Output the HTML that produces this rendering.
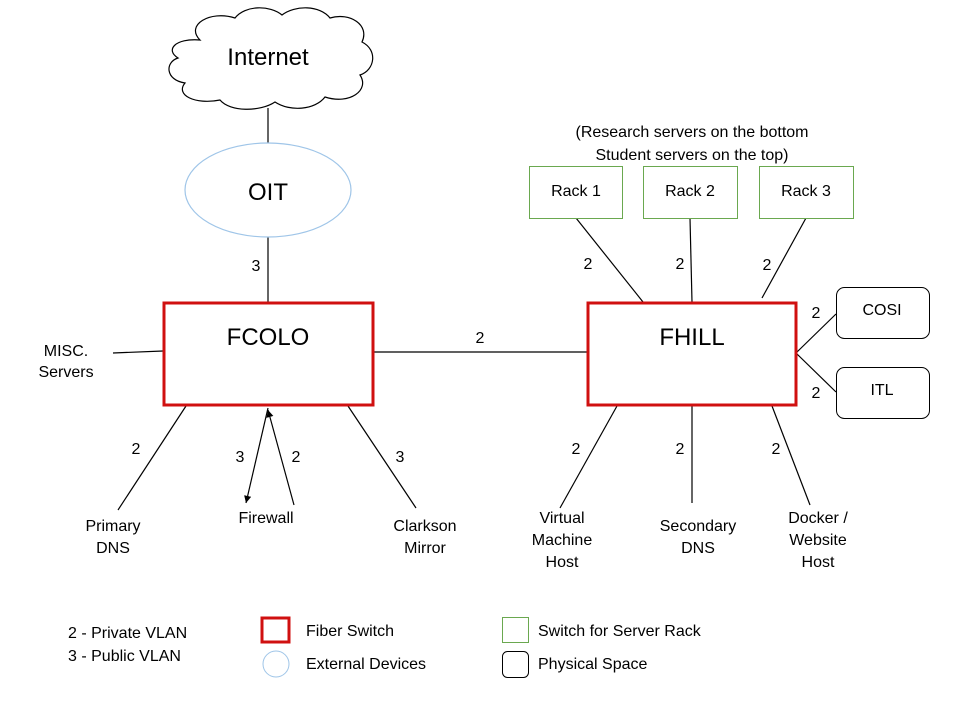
<!DOCTYPE html>
<html><head><style>body{margin:0;background:#fff}svg{display:block}text{font-family:"Liberation Sans",sans-serif;fill:#000}</style></head>
<body>
<svg width="960" height="720" xmlns="http://www.w3.org/2000/svg">
<defs><marker id="a" markerWidth="8" markerHeight="8" refX="6" refY="3" orient="auto"><path d="M0,0 L6,3 L0,6 z" fill="#000"/></marker></defs>
<path d="M200,40 C185,25 210,10 235,18 C245,5 270,5 282,15 C295,5 320,5 330,18 C350,12 370,25 362,42 C378,50 375,70 360,75 C370,90 350,105 325,97 C315,110 290,112 275,102 C260,112 230,112 220,100 C195,105 175,95 185,83 C165,80 165,62 178,58 C165,50 175,38 200,40 Z" fill="#fff" stroke="#000" stroke-width="1.2"/>
<text x="268" y="65" font-size="24" text-anchor="middle">Internet</text>
<g stroke="#000" stroke-width="1.2" fill="none">
<line x1="268" y1="108" x2="268" y2="143"/>
<line x1="268" y1="237" x2="268" y2="302"/>
<line x1="373" y1="352" x2="587" y2="352"/>
<line x1="113" y1="353" x2="163" y2="351"/>
<line x1="186" y1="406" x2="118" y2="510"/>
<line x1="348" y1="406" x2="416" y2="508"/>
<line x1="268" y1="408" x2="246" y2="503" marker-end="url(#a)"/>
<line x1="294" y1="505" x2="268" y2="410" marker-end="url(#a)"/>
<line x1="576" y1="218" x2="643" y2="302"/>
<line x1="690" y1="218" x2="692" y2="302"/>
<line x1="806" y1="218" x2="762" y2="298"/>
<line x1="797" y1="352" x2="836" y2="314"/>
<line x1="797" y1="354" x2="836" y2="392"/>
<line x1="617" y1="406" x2="560" y2="508"/>
<line x1="692" y1="406" x2="692" y2="503"/>
<line x1="772" y1="406" x2="810" y2="505"/>
</g>
<ellipse cx="268" cy="190" rx="83" ry="47" fill="#fff" stroke="#9fc5e8" stroke-width="1.2"/>
<text x="268" y="200" font-size="24" text-anchor="middle">OIT</text>
<rect x="164" y="303" width="209" height="102" fill="#fff" stroke="#d01010" stroke-width="3"/>
<text x="268" y="345" font-size="24" text-anchor="middle">FCOLO</text>
<rect x="588" y="303" width="208" height="102" fill="#fff" stroke="#d01010" stroke-width="3"/>
<text x="692" y="345" font-size="24" text-anchor="middle">FHILL</text>
<g fill="#fff" stroke="#6aa84f" stroke-width="1">
<rect x="529.5" y="166.5" width="93" height="52"/>
<rect x="643.5" y="166.5" width="94" height="52"/>
<rect x="759.5" y="166.5" width="94" height="52"/>
</g>
<g fill="#fff" stroke="#000" stroke-width="1">
<rect x="836.5" y="287.5" width="93" height="51" rx="8"/>
<rect x="836.5" y="367.5" width="93" height="51" rx="8"/>
</g>
<g font-size="16" text-anchor="middle">
<text x="576" y="196">Rack 1</text>
<text x="690" y="196">Rack 2</text>
<text x="806" y="196">Rack 3</text>
<text x="882" y="315">COSI</text>
<text x="882" y="395">ITL</text>
<text x="692" y="137">(Research servers on the bottom</text>
<text x="692" y="160">Student servers on the top)</text>
<text x="66" y="356">MISC.</text>
<text x="66" y="377">Servers</text>
<text x="113" y="531">Primary</text>
<text x="113" y="553">DNS</text>
<text x="266" y="523">Firewall</text>
<text x="425" y="531">Clarkson</text>
<text x="425" y="553">Mirror</text>
<text x="562" y="523">Virtual</text>
<text x="562" y="545">Machine</text>
<text x="562" y="567">Host</text>
<text x="698" y="531">Secondary</text>
<text x="698" y="553">DNS</text>
<text x="818" y="523">Docker /</text>
<text x="818" y="545">Website</text>
<text x="818" y="567">Host</text>
<text x="256" y="271">3</text>
<text x="480" y="343">2</text>
<text x="136" y="454">2</text>
<text x="240" y="462">3</text>
<text x="296" y="462">2</text>
<text x="400" y="462">3</text>
<text x="588" y="269">2</text>
<text x="680" y="269">2</text>
<text x="767" y="270">2</text>
<text x="816" y="318">2</text>
<text x="816" y="398">2</text>
<text x="576" y="454">2</text>
<text x="680" y="454">2</text>
<text x="776" y="454">2</text>
</g>
<g font-size="16">
<text x="68" y="638">2 - Private VLAN</text>
<text x="68" y="661">3 - Public VLAN</text>
<text x="306" y="636">Fiber Switch</text>
<text x="306" y="669">External Devices</text>
<text x="538" y="636">Switch for Server Rack</text>
<text x="538" y="669">Physical Space</text>
</g>
<rect x="262" y="618" width="27" height="24" fill="#fff" stroke="#d01010" stroke-width="3"/>
<circle cx="276" cy="664" r="13" fill="#fff" stroke="#9fc5e8" stroke-width="1"/>
<rect x="502.5" y="617.5" width="26" height="25" fill="#fff" stroke="#6aa84f" stroke-width="1"/>
<rect x="502.5" y="651.5" width="26" height="26" rx="5" fill="#fff" stroke="#000" stroke-width="1"/>
</svg>
</body></html>
